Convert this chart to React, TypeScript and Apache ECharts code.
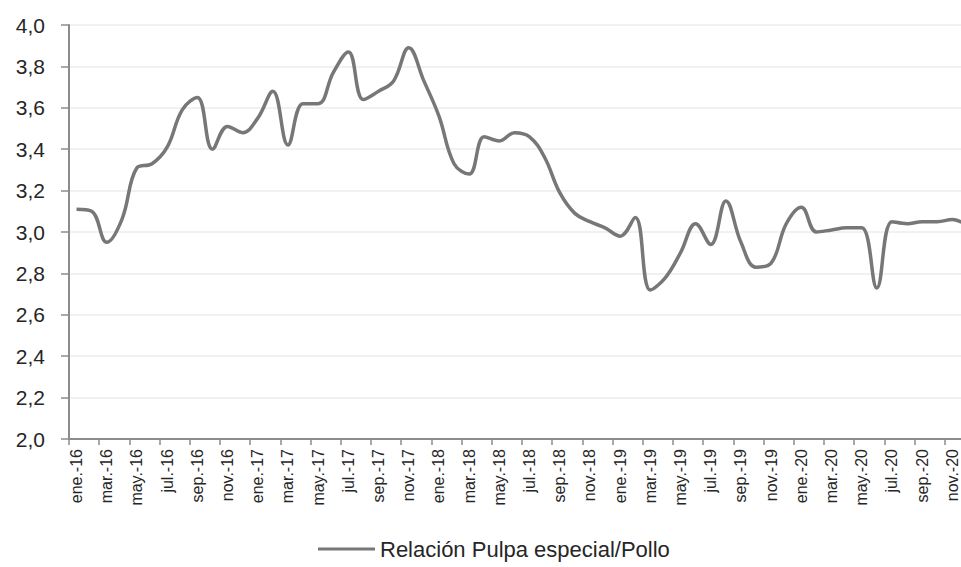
import React, { useEffect, useRef } from "react";
import * as echarts from "echarts";

const monthNames = ["ene.", "feb.", "mar.", "abr.", "may.", "jun.", "jul.", "ago.", "sep.", "oct.", "nov.", "dic."];
const years = ["16", "17", "18", "19", "20"];
const categories: string[] = years.flatMap((y) => monthNames.map((m) => `${m}-${y}`));

const seriesName = "Relación Pulpa especial/Pollo";
const values = [
  3.11, 3.1, 2.95, 3.06, 3.31, 3.33, 3.41, 3.59, 3.65, 3.4, 3.51, 3.48,
  3.55, 3.68, 3.42, 3.62, 3.62, 3.77, 3.87, 3.64, 3.68, 3.73, 3.89, 3.73,
  3.56, 3.33, 3.28, 3.46, 3.44, 3.48, 3.46, 3.36, 3.19, 3.09, 3.05, 3.02,
  2.98, 3.07, 2.72, 2.78, 2.9, 3.04, 2.94, 3.15, 2.95, 2.83, 2.85, 3.04,
  3.12, 3.0, 3.01, 3.02, 3.02, 2.73, 3.05, 3.04, 3.05, 3.05, 3.06, 3.03,
];

const yTicks = { min: 2, max: 4, interval: 0.2 };

export default function App() {
  const ref = useRef<HTMLDivElement>(null);
  useEffect(() => {
    if (!ref.current) return;
    const chart = echarts.init(ref.current, undefined, { renderer: "svg" });
    const font = "'Liberation Sans', Arial, sans-serif";
    chart.setOption({
      animation: false,
      backgroundColor: "#ffffff",
      grid: { left: 69, right: 0, top: 25, bottom: 128 },
      legend: {
        left: 318,
        top: 538,
        padding: 0,
        itemWidth: 57,
        itemHeight: 3,
        itemGap: 10,
        data: [{ name: seriesName, icon: "rect" }],
        textStyle: { fontFamily: font, fontSize: 22, color: "#262626" },
      },
      xAxis: {
        type: "category",
        data: categories,
        boundaryGap: true,
        axisLine: { lineStyle: { color: "#8c8c8c", width: 2 } },
        axisTick: { show: true, interval: 1, length: 6, lineStyle: { color: "#8c8c8c", width: 1.5 } },
        axisLabel: {
          interval: 1,
          rotate: 90,
          margin: 10,
          fontFamily: font,
          fontSize: 16,
          color: "#262626",
        },
        splitLine: { show: false },
      },
      yAxis: {
        type: "value",
        min: yTicks.min,
        max: yTicks.max,
        interval: yTicks.interval,
        axisLine: { show: true, lineStyle: { color: "#8c8c8c", width: 2 } },
        axisTick: { show: true, length: 8, lineStyle: { color: "#8c8c8c", width: 1.5 } },
        axisLabel: {
          margin: 24,
          fontFamily: font,
          fontSize: 21,
          color: "#262626",
          formatter: (v: number) => v.toFixed(1).replace(".", ","),
        },
        splitLine: { lineStyle: { color: "#ececec", width: 1.5 } },
      },
      series: [
        {
          name: seriesName,
          type: "line",
          data: values,
          smooth: 0.4,
          showSymbol: false,
          lineStyle: { color: "#777777", width: 3.5 },
          itemStyle: { color: "#777777" },
        },
      ],
    });
    return () => chart.dispose();
  }, []);
  return (
    <div style={{ position: "fixed", left: 0, top: 0, width: 961, height: 567, overflow: "hidden", background: "#fff" }}>
      <div ref={ref} style={{ width: 975, height: 567 }} />
    </div>
  );
}
